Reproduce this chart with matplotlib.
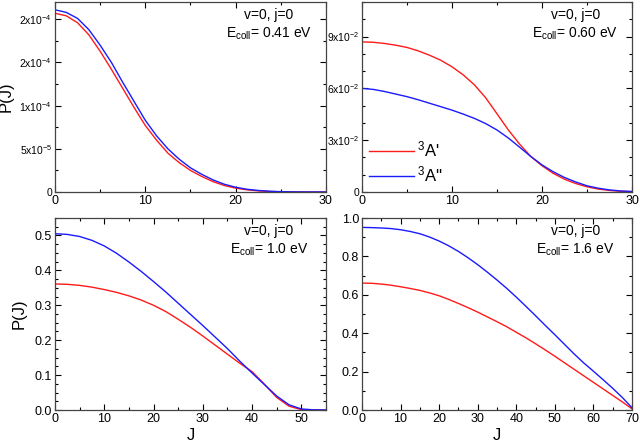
import numpy as np
import matplotlib
matplotlib.use('Agg')
import matplotlib.pyplot as plt
from matplotlib.ticker import AutoMinorLocator

plt.rcParams['font.family'] = ['Liberation Sans', 'DejaVu Sans']
plt.rcParams['mathtext.fontset'] = 'custom'
plt.rcParams['mathtext.rm'] = 'Liberation Sans'
plt.rcParams['mathtext.it'] = 'Liberation Sans:italic'

# ---- data ----
# Ecoll = 0.41 eV
J_a = [0, 1.25, 2.5, 3.75, 5, 6.25, 7.5, 8.75, 10, 11.25, 12.5, 13.75, 15, 16.25,
       17.5, 18.75, 20, 21.25, 22.5, 23.75, 25, 26.25, 27.5, 30]
red_a = [2.07e-4, 2.04e-4, 1.96e-4, 1.82e-4, 1.63e-4, 1.42e-4, 1.20e-4, 0.98e-4, 7.7e-5, 6.0e-5,
         4.5e-5, 3.4e-5, 2.5e-5, 1.8e-5, 1.2e-5, 7.5e-6, 4.5e-6, 2.5e-6, 1.3e-6, 0.6e-6,
         0.25e-6, 0.1e-6, 0.03e-6, 0]
blue_a = [2.11e-4, 2.08e-4, 2.01e-4, 1.88e-4, 1.70e-4, 1.50e-4, 1.27e-4, 1.05e-4, 8.3e-5, 6.5e-5,
          5.0e-5, 3.8e-5, 2.8e-5, 2.05e-5, 1.4e-5, 9.0e-6, 5.5e-6, 3.2e-6, 1.8e-6, 0.9e-6,
          0.4e-6, 0.15e-6, 0.05e-6, 0]

# Ecoll = 0.60 eV
J_b = [0, 1.25, 2.5, 3.75, 5, 6.25, 7.5, 8.75, 10, 11.25, 12.5, 13.75, 15, 16.25,
       17.5, 18.75, 20, 21.25, 22.5, 23.75, 25, 26.25, 27.5, 28.75, 30]
red_b = [0.0869, 0.0867, 0.0860, 0.0850, 0.0837, 0.0817, 0.0792, 0.0763, 0.0725, 0.0678,
         0.0620, 0.0545, 0.0453, 0.0360, 0.0278, 0.0206, 0.0152, 0.0108, 0.0074, 0.0049,
         0.0030, 0.0017, 0.0009, 0.0004, 0.0002]
blue_b = [0.0600, 0.0594, 0.0582, 0.0567, 0.0552, 0.0534, 0.0514, 0.0494, 0.0474, 0.0451,
          0.0426, 0.0396, 0.0359, 0.0313, 0.0260, 0.0206, 0.0157, 0.0117, 0.0084, 0.0058,
          0.0036, 0.0022, 0.0012, 0.0006, 0.0003]

# Ecoll = 1.0 eV
J_c = [0, 2.5, 5, 7.5, 10, 12.5, 15, 17.5, 20, 22.5, 25, 27.5, 30, 32.5, 35,
       37.5, 40, 42.5, 45, 47.5, 50, 52.5, 55]
red_c = [0.361, 0.360, 0.357, 0.352, 0.345, 0.337, 0.327, 0.315, 0.300, 0.282, 0.260, 0.237,
         0.212, 0.186, 0.160, 0.134, 0.110, 0.074, 0.036, 0.011, 0.001, 0.0, 0.0]
blue_c = [0.505, 0.503, 0.497, 0.486, 0.470, 0.449, 0.424, 0.397, 0.368, 0.338, 0.306, 0.274,
          0.242, 0.209, 0.176, 0.140, 0.106, 0.073, 0.040, 0.015, 0.003, 0.0005, 0.0]

# Ecoll = 1.6 eV
J_d = [0, 2.5, 5, 7.5, 10, 12.5, 15, 17.5, 20, 22.5, 25, 27.5, 30, 32.5, 35, 37.5,
       40, 42.5, 45, 47.5, 50, 52.5, 55, 57.5, 60, 62.5, 65, 67.5, 70]
red_d = [0.661, 0.660, 0.656, 0.650, 0.642, 0.633, 0.623, 0.610, 0.595, 0.576, 0.555, 0.533,
         0.510, 0.485, 0.460, 0.434, 0.405, 0.376, 0.345, 0.313, 0.280, 0.246, 0.212, 0.178,
         0.144, 0.110, 0.076, 0.042, 0.006]
blue_d = [0.951, 0.950, 0.948, 0.945, 0.939, 0.930, 0.918, 0.901, 0.880, 0.855, 0.826, 0.793,
          0.757, 0.718, 0.677, 0.634, 0.588, 0.540, 0.491, 0.441, 0.392, 0.342, 0.292, 0.245,
          0.202, 0.158, 0.113, 0.065, 0.012]

energies = ['0.41', '0.60', '1.0', '1.6']
yt_a = [0, 5e-5, 1e-4, 1.5e-4, 2e-4]
yl_a = ['0', r'5x10$^{-5}$', r'1x10$^{-4}$', r'2x10$^{-4}$', r'2x10$^{-4}$']
yt_b = [0, 0.03, 0.06, 0.09]
yl_b = ['0', r'3x10$^{-2}$', r'6x10$^{-2}$', r'9x10$^{-2}$']

RED = '#ff1a1a'
BLUE = '#1a1aff'

fig = plt.figure(figsize=(6.4, 4.46), dpi=100)
ax1 = fig.add_axes([0.0859, 0.5695, 0.4234, 0.426])
ax2 = fig.add_axes([0.5656, 0.5695, 0.4219, 0.426])
ax3 = fig.add_axes([0.0859, 0.0807, 0.4234, 0.4305])
ax4 = fig.add_axes([0.5656, 0.0807, 0.4219, 0.4305])

data = [(ax1, J_a, red_a, blue_a, 2), (ax2, J_b, red_b, blue_b, 3),
        (ax3, J_c, red_c, blue_c, 4), (ax4, J_d, red_d, blue_d, 2)]

for i, (ax, J, r, b, nminor) in enumerate(data):
    ax.plot(J, r, color=RED, lw=1.0, label="$^3$A'")
    ax.plot(J, b, color=BLUE, lw=1.0, label="$^3$A''")
    ax.tick_params(which='both', direction='in', top=True, right=True, labelsize=9, pad=2)
    ax.tick_params(which='major', length=4, width=0.8)
    ax.tick_params(which='minor', length=2, width=0.8)
    ax.xaxis.set_minor_locator(AutoMinorLocator(2))
    ax.yaxis.set_minor_locator(AutoMinorLocator(nminor))
    for s in ax.spines.values():
        s.set_color('#444444')
        s.set_linewidth(0.9)
    ax.text(0.79, 0.968, 'v=0, j=0\n' + r'E$_{\rm coll}$= ' + energies[i] + ' eV',
            transform=ax.transAxes, ha='center', va='top', fontsize=10, linespacing=1.3)

ax1.set_xlim(0, 30)
ax1.set_ylim(0, 2.2e-4)
ax1.set_xticks([0, 10, 20, 30])
ax1.set_yticks(yt_a)
ax1.set_yticklabels(yl_a, fontsize=7.5)

ax2.set_xlim(0, 30)
ax2.set_ylim(0, 0.11)
ax2.set_xticks([0, 10, 20, 30])
ax2.set_yticks(yt_b)
ax2.set_yticklabels(yl_b, fontsize=7.5)
ax2.legend(loc='lower left', bbox_to_anchor=(-0.03, -0.04), frameon=False, fontsize=12,
           handlelength=2.7, handletextpad=0.2, labelspacing=0.3)

ax3.set_xlim(0, 55)
ax3.set_ylim(0, 0.55)
ax3.set_xticks([0, 10, 20, 30, 40, 50])
ax3.set_yticks([0, 0.1, 0.2, 0.3, 0.4, 0.5])
ax3.set_yticklabels(['0.0', '0.1', '0.2', '0.3', '0.4', '0.5'])

ax4.set_xlim(0, 70)
ax4.set_ylim(0, 1.0)
ax4.set_xticks([0, 10, 20, 30, 40, 50, 60, 70])
ax4.set_yticks([0, 0.2, 0.4, 0.6, 0.8, 1.0])
ax4.set_yticklabels(['0.0', '0.2', '0.4', '0.6', '0.8', '1.0'])

ax1.set_ylabel('P(J)', fontsize=12, labelpad=4)
ax3.set_ylabel('P(J)', fontsize=12, labelpad=6)
ax3.set_xlabel('J', fontsize=12, labelpad=2)
ax4.set_xlabel('J', fontsize=12, labelpad=2)

fig.savefig('out.png', dpi=100)
